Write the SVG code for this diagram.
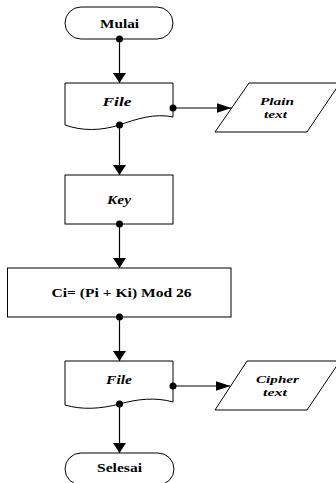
<svg xmlns="http://www.w3.org/2000/svg" width="336" height="483" viewBox="0 0 336 483">
<style>
  .shape{fill:#fff;stroke:#000;stroke-width:1}
  .ln{fill:none;stroke:#000;stroke-width:1.2}
  .dot{fill:#000}
  .t{font-family:"Liberation Serif","Times New Roman",serif;font-weight:bold;font-size:12px;fill:#000;text-anchor:middle}
  .i{font-style:italic}
  .s{font-size:11px}
</style>
<defs>
  <marker id="ah-v" markerUnits="userSpaceOnUse" markerWidth="10" markerHeight="13" refX="10" refY="6.5" orient="auto">
    <path d="M0,0 L10,6.5 L0,13 Z" fill="#000"/>
  </marker>
  <marker id="ah-h" markerUnits="userSpaceOnUse" markerWidth="15" markerHeight="10" refX="15" refY="5" orient="auto">
    <path d="M0,0 L15,5 L0,10 Z" fill="#000"/>
  </marker>
</defs>
<rect width="336" height="483" fill="#fff"/>

<g id="connectors">
  <line class="ln" x1="119.5" y1="39" x2="119.5" y2="83" marker-end="url(#ah-v)"/>
  <line class="ln" x1="173" y1="108" x2="231.5" y2="108" marker-end="url(#ah-h)"/>
  <line class="ln" x1="119.5" y1="125" x2="119.5" y2="175" marker-end="url(#ah-v)"/>
  <line class="ln" x1="119.5" y1="224" x2="119.5" y2="268" marker-end="url(#ah-v)"/>
  <line class="ln" x1="119.5" y1="317" x2="119.5" y2="361" marker-end="url(#ah-v)"/>
  <line class="ln" x1="173" y1="386" x2="230.5" y2="386" marker-end="url(#ah-h)"/>
  <line class="ln" x1="119.5" y1="404" x2="119.5" y2="453" marker-end="url(#ah-v)"/>
</g>

<g id="mulai">
  <rect class="shape" x="65" y="7" width="108" height="32" rx="16" ry="16"/>
  <text class="t" x="119.5" y="27.5" textLength="39" lengthAdjust="spacingAndGlyphs">Mulai</text>
</g>

<g id="file1">
  <path class="shape" d="M65,83 H173 V117 C155,113 136,119 119.5,125 C100,131 82,131 65,125 Z"/>
  <text class="t i" x="117" y="106" textLength="29" lengthAdjust="spacingAndGlyphs">File</text>
</g>

<g id="plaintext">
  <polygon class="shape" points="249,83 340,83 307,132 215,132"/>
  <text class="t i s" x="277" y="105" textLength="34" lengthAdjust="spacingAndGlyphs">Plain</text>
  <text class="t i s" x="275.5" y="118" textLength="23" lengthAdjust="spacingAndGlyphs">text</text>
</g>

<g id="key">
  <rect class="shape" x="65" y="175" width="108" height="49"/>
  <text class="t i" x="119" y="204" textLength="24" lengthAdjust="spacingAndGlyphs">Key</text>
</g>

<g id="proses">
  <rect class="shape" x="7.5" y="268" width="223.5" height="49"/>
  <text class="t" x="121.5" y="297" font-size="13" textLength="140" lengthAdjust="spacingAndGlyphs">Ci= (Pi + Ki) Mod 26</text>
</g>

<g id="file2">
  <path class="shape" d="M65,361 H173 V402 C156,397 137,399 119.5,404 C100,409 82,410 65,405 Z"/>
  <text class="t i" x="119" y="384" textLength="26" lengthAdjust="spacingAndGlyphs">File</text>
</g>

<g id="ciphertext">
  <polygon class="shape" points="247,361 340,361 307,410 215,410"/>
  <text class="t i s" x="277.5" y="383" textLength="43" lengthAdjust="spacingAndGlyphs">Cipher</text>
  <text class="t i s" x="275" y="396" textLength="24" lengthAdjust="spacingAndGlyphs">text</text>
</g>

<g id="selesai">
  <rect class="shape" x="65" y="453" width="109" height="32" rx="16" ry="16"/>
  <text class="t" x="119.5" y="472" textLength="45" lengthAdjust="spacingAndGlyphs">Selesai</text>
</g>

<g id="dots">
  <circle class="dot" cx="119.5" cy="39" r="3.5"/>
  <circle class="dot" cx="173" cy="108" r="3.5"/>
  <circle class="dot" cx="119.5" cy="125" r="3.5"/>
  <circle class="dot" cx="119.5" cy="224" r="3.5"/>
  <circle class="dot" cx="119.5" cy="317" r="3.5"/>
  <circle class="dot" cx="173" cy="386" r="3.5"/>
  <circle class="dot" cx="119.5" cy="404" r="3.5"/>
</g>
</svg>
